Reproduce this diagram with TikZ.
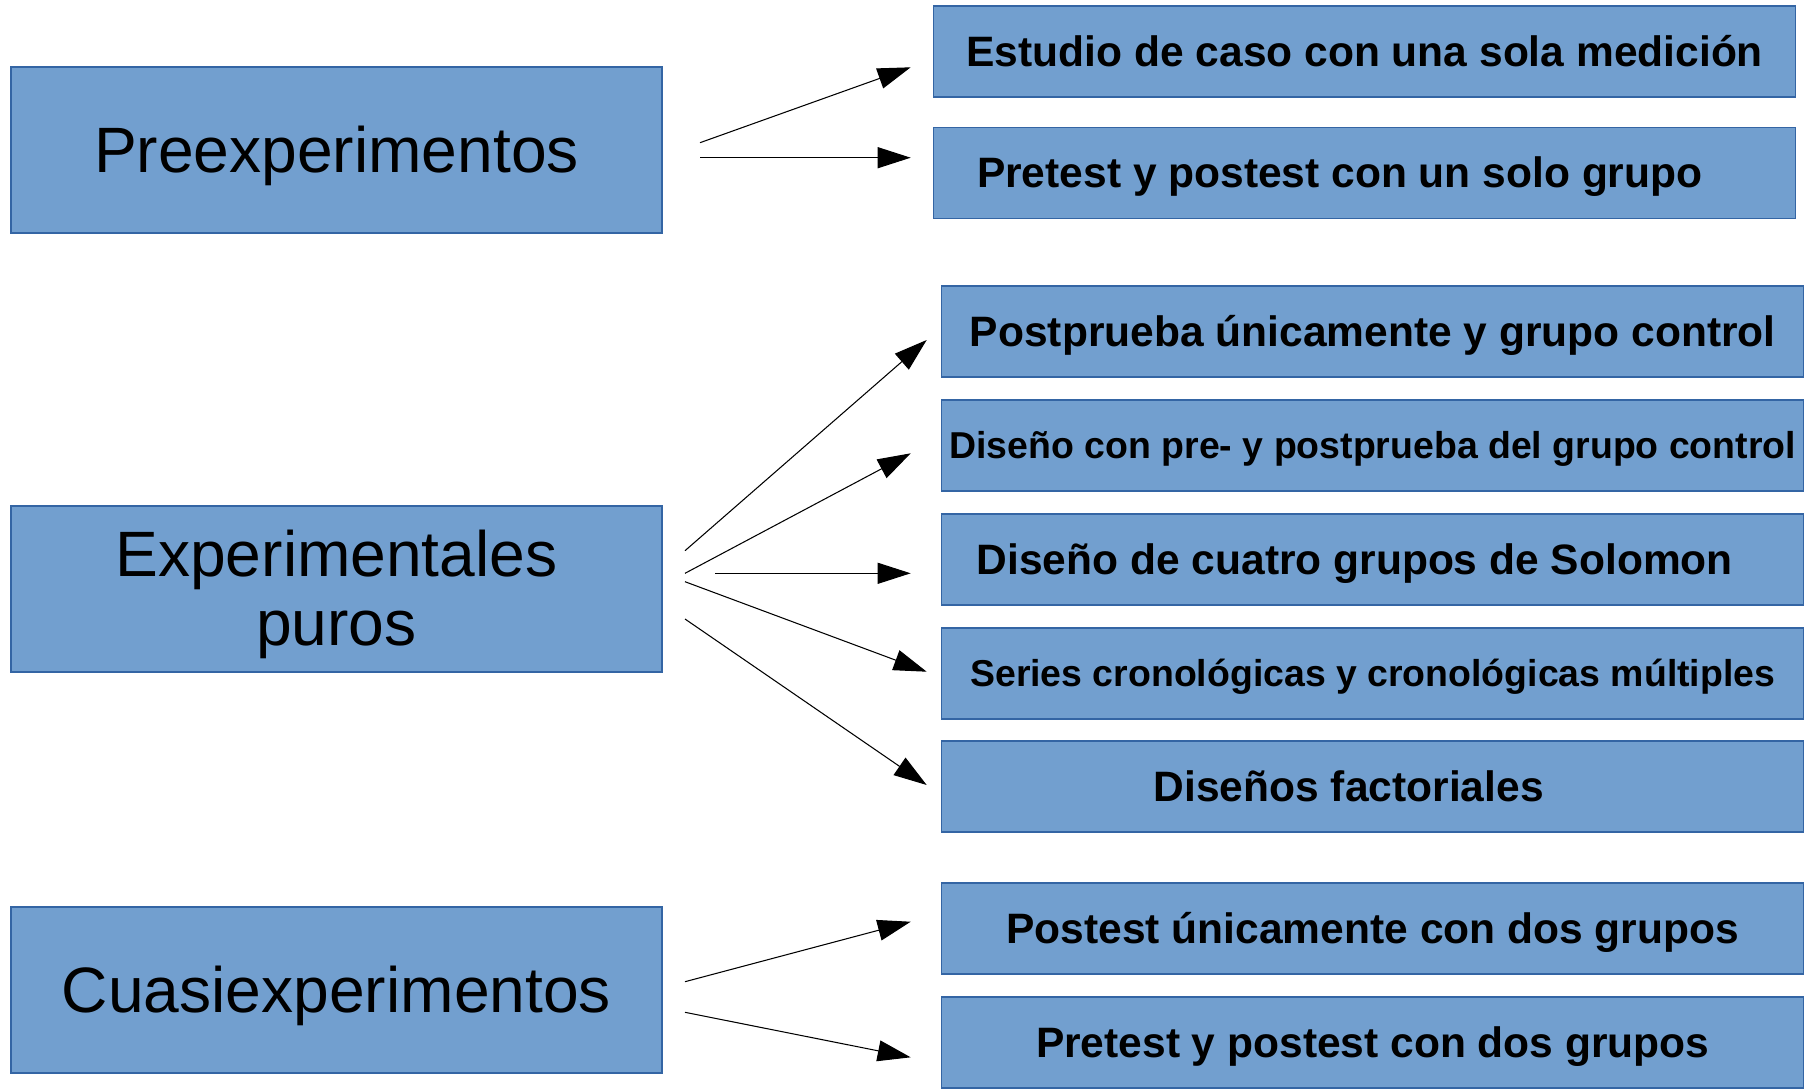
\documentclass[tikz,border=0pt]{standalone}
\usepackage{fontspec}
\setmainfont{Liberation Sans}
\usetikzlibrary{arrows.meta}

\definecolor{boxfill}{HTML}{729FCF}
\definecolor{boxline}{HTML}{3465A4}

\tikzset{
	typebox/.style={draw=boxline, line width=0.6pt, fill=boxfill, minimum width=13.02cm, minimum height=3.32cm, align=center, text height=33pt, text depth=7.7pt, font=\fontsize{36.5}{39}\selectfont},
	designbox/.style={draw=boxline, line width=0.6pt, fill=boxfill, minimum width=17.24cm, minimum height=1.82cm, inner sep=1pt, text height=21.9pt, text depth=5.1pt, font=\bfseries\fontsize{24.2}{28}\selectfont},
	smalldesign/.style={designbox, text height=19.2pt, text depth=4.5pt, font=\bfseries\fontsize{21.3}{25}\selectfont},
	link/.style={line width=0.6pt, -{Triangle[length=0.66cm,width=0.42cm]}}
}

\begin{document}
\begin{tikzpicture}
	\useasboundingbox (0,0) rectangle (36.22,-21.76);
	
	%draw the three kinds of design
	\node[typebox] (pre) at (6.73,-3.0) {Preexperimentos};
	\node[typebox, text height=72pt] (exp) at (6.73,-11.78) {Experimentales\\puros};
	\node[typebox] (cuasi) at (6.73,-19.8) {Cuasiexperimentos};
	
	%draw the designs of each kind
	\node[designbox] (estudio) at (27.295,-1.03) {Estudio de caso con una sola medición};
	\node[designbox] (pretestuno) at (27.295,-3.46) {Pretest y postest con un solo grupo\hspace*{1cm}};
	\node[designbox] (postprueba) at (27.455,-6.63) {Postprueba únicamente y grupo control};
	\node[smalldesign] (prepost) at (27.455,-8.91) {Diseño con pre- y postprueba del grupo control};
	\node[designbox] (solomon) at (27.455,-11.19) {Diseño de cuatro grupos de Solomon\hspace*{0.72cm}};
	\node[smalldesign] (series) at (27.455,-13.47) {Series cronológicas y cronológicas múltiples};
	\node[designbox] (factorial) at (27.455,-15.73) {Diseños factoriales\hspace*{0.96cm}};
	\node[designbox] (postest) at (27.455,-18.57) {Postest únicamente con dos grupos};
	\node[designbox] (pretestdos) at (27.455,-20.85) {Pretest y postest con dos grupos};
	
	%start and end points of the arrows
	\coordinate (p1) at (14.0,-2.854);
	\coordinate (p2) at (14.0,-3.154);
	\coordinate (e1) at (13.7,-11.014);
	\coordinate (e2) at (13.7,-11.466);
	\coordinate (e3) at (14.3,-11.466);
	\coordinate (e4) at (13.7,-11.634);
	\coordinate (e5) at (13.7,-12.38);
	\coordinate (c1) at (13.7,-19.634);
	\coordinate (c2) at (13.7,-20.246);
	
	\coordinate (toestudio) at (18.214,-1.346);
	\coordinate (topretestuno) at (18.214,-3.154);
	\coordinate (topostprueba) at (18.534,-6.8);
	\coordinate (toprepost) at (18.214,-9.066);
	\coordinate (tosolomon) at (18.214,-11.466);
	\coordinate (toseries) at (18.534,-13.434);
	\coordinate (tofactorial) at (18.534,-15.7);
	\coordinate (topostest) at (18.214,-18.434);
	\coordinate (topretestdos) at (18.214,-21.146);
	
	%draw arrows
	\draw[link] (p1) -- (toestudio);
	\draw[link] (p2) -- (topretestuno);
	\draw[link] (e1) -- (topostprueba);
	\draw[link] (e2) -- (toprepost);
	\draw[link] (e3) -- (tosolomon);
	\draw[link] (e4) -- (toseries);
	\draw[link] (e5) -- (tofactorial);
	\draw[link] (c1) -- (topostest);
	\draw[link] (c2) -- (topretestdos);
\end{tikzpicture}
\end{document}
